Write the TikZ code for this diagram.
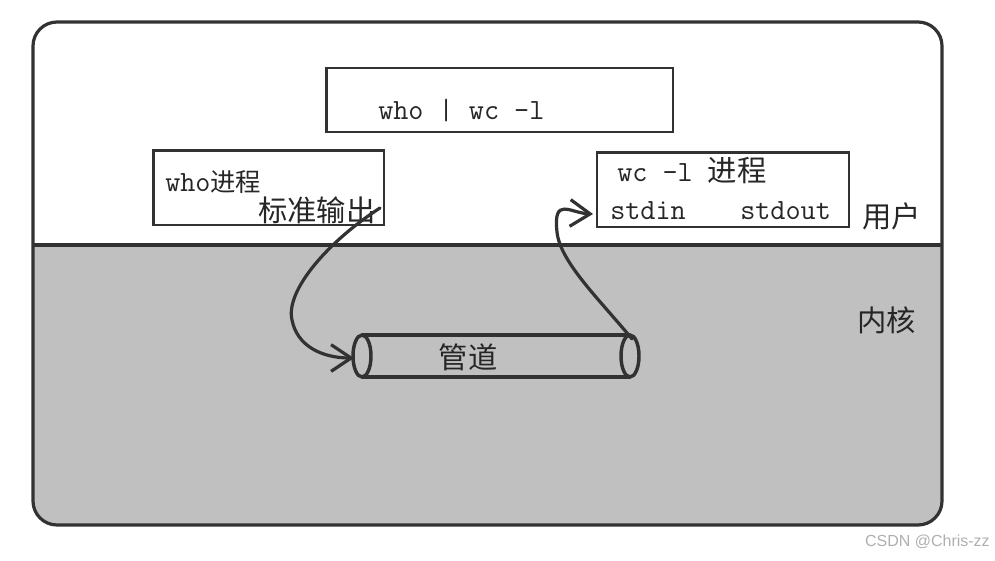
\documentclass[tikz,border=0pt]{standalone}
\usepackage{fontspec}
\newfontfamily\cjk{Noto Sans CJK SC}
\newfontfamily\wmfont{Liberation Sans}
\usetikzlibrary{arrows.meta}
\definecolor{kernelgray}{RGB}{192,192,192}
\definecolor{ink}{RGB}{50,50,50}
\definecolor{wmgray}{RGB}{175,175,175}
\tikzset{
  procbox/.style={draw=ink, line width=2pt, fill=white, inner sep=0pt},
  monotxt/.style={inner sep=0pt, font=\ttfamily\fontsize{22}{24}\selectfont, text=black!85},
  cjktxt/.style={inner sep=0pt, font=\cjk\fontsize{22}{24}\selectfont, text=black!85},
  flow/.style={draw=ink, line width=2.4pt, line cap=round, -{Straight Barb[length=15pt,width=20pt,line width=2.4pt]}},
  pipeline/.style={draw=ink, line width=2.6pt}
}
\begin{document}
\begin{tikzpicture}[x=0.75pt,y=-0.75pt]
\useasboundingbox (0,0) rectangle (995,560);
% outer frame with kernel area
\begin{scope}
  \clip[rounded corners=18pt] (33,22) rectangle (942,525);
  \fill[kernelgray] (33,245) rectangle (942,525);
\end{scope}
\draw[ink, line width=2.4pt] (33,245) -- (942,245);
\draw[ink, line width=2.4pt, rounded corners=18pt] (33,22) rectangle (942,525);

% command box
\node[procbox, minimum width=260pt, minimum height=48pt] (cmd) at (499.5,100) {};
\node[monotxt, anchor=west] (cmdtxt) at (378,111) {who | wc -l};

% who process box
\node[procbox, minimum width=173pt, minimum height=56pt] (who) at (268.5,187.5) {};
\node[monotxt, anchor=west] (whotxt) at (165,182) {who{\cjk\fontsize{19}{22}\selectfont 进程}};
\node[cjktxt, anchor=west] (stdoutw) at (258,210) {标准输出};

% wc process box
\node[procbox, minimum width=189pt, minimum height=56pt] (wc) at (723,189.5) {};
\node[monotxt, anchor=west] (wctxt) at (617,171) {wc -l {\cjk 进程}};
\node[monotxt, anchor=west] (stdin) at (610,211) {stdin};
\node[monotxt, anchor=west] (stdoutr) at (740,211) {stdout};

% region labels
\node[cjktxt, anchor=west] (user) at (862,216) {用户};
\node[cjktxt, anchor=west] (kernel) at (857,320) {内核};

% pipe
\node[minimum width=201pt, minimum height=31.5pt, inner sep=0pt] (pipe) at (496,356) {};
\fill[kernelgray] (362,335) rectangle (630,377);
\draw[pipeline] (362,335) -- (630,335);
\draw[pipeline] (362,377) -- (630,377);
\draw[pipeline, fill=kernelgray] (362,356) ellipse [x radius=9, y radius=21];
\draw[pipeline, fill=kernelgray] (630,356) ellipse [x radius=9, y radius=21];
\node[cjktxt] (pipetxt) at (468,357) {管道};

% connectors
\coordinate (outstart) at (380,208);
\coordinate (pipein) at (354,358);
\coordinate (pipeout) at (632,339);
\coordinate (inend) at (593,214);
\draw[flow] (outstart) .. controls (330,240) and (285,290) .. (292,320)
            .. controls (297,346) and (322,358) .. (pipein);
\draw[flow] (pipeout) .. controls (600,300) and (560,262) .. (557,232)
            .. controls (553,196) and (570,213) .. (inend);

% watermark
\node[anchor=east, inner sep=0pt, font=\wmfont\fontsize{12}{14}\selectfont, text=wmgray] (wm) at (990,542) {CSDN @Chris-zz};
\end{tikzpicture}
\end{document}
